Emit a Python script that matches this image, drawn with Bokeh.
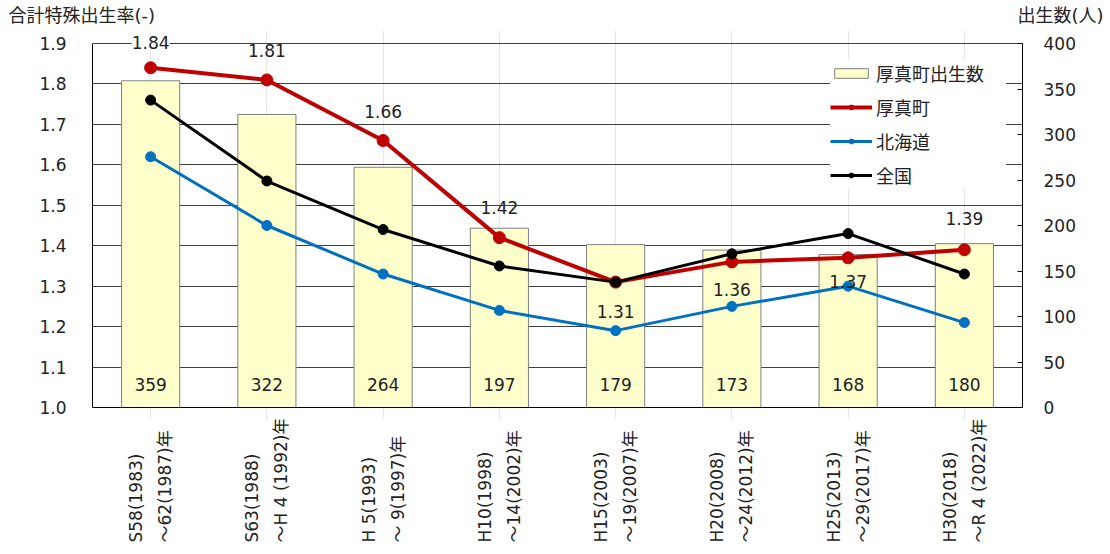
import math
from bokeh.plotting import figure
from bokeh.layouts import column
from bokeh.models import (ColumnDataSource, Range1d, LinearAxis, FixedTicker, LabelSet, Span,
                          Legend, LegendItem, NumeralTickFormatter, FactorRange)
from bokeh.core.properties import value
from bokeh.embed import file_html
from bokeh.resources import INLINE

# ---- data ----
periods = ["S58(1983)\n～62(1987)年", "S63(1988)\n～H 4 (1992)年", "H 5(1993)\n～ 9(1997)年",
           "H10(1998)\n～14(2002)年", "H15(2003)\n～19(2007)年", "H20(2008)\n～24(2012)年",
           "H25(2013)\n～29(2017)年", "H30(2018)\n～R 4 (2022)年"]
births = [359, 322, 264, 197, 179, 173, 168, 180]
atsuma = [1.84, 1.81, 1.66, 1.42, 1.31, 1.36, 1.37, 1.39]
hokkaido = [1.62, 1.45, 1.33, 1.24, 1.19, 1.25, 1.30, 1.21]
japan = [1.76, 1.56, 1.44, 1.35, 1.31, 1.38, 1.43, 1.33]
rate_ticks = [1.0, 1.1, 1.2, 1.3, 1.4, 1.5, 1.6, 1.7, 1.8, 1.9]
birth_ticks = [0, 50, 100, 150, 200, 250, 300, 350, 400]
series_names = ["厚真町出生数", "厚真町", "北海道", "全国"]
left_title = "合計特殊出生率(-)"
right_title = "出生数(人)"

FONT = "DejaVu Sans, Noto Sans CJK JP"
FS = "17px"
FS_CJK = "18px"
TC = "#222222"

W = 1106
L_BORDER, R_BORDER = 92, W - 1022
HEADER_H = 30
AXIS_PX = 364          # pixels from 1.0 to 1.9
TOP_PAD, BOT_PAD = 13, 12
MAIN_H = AXIS_PX + TOP_PAD + BOT_PAD
FOOT_H = 548 - HEADER_H - MAIN_H
LABEL_BOTTOM = 542 - HEADER_H - MAIN_H   # page y of the labels' lower end, inside the footer

rate_lo, rate_hi = rate_ticks[0], rate_ticks[-1]
b_lo, b_hi = birth_ticks[0], birth_ticks[-1]
r_per_px = (rate_hi - rate_lo) / AXIS_PX
b_per_px = (b_hi - b_lo) / AXIS_PX

xr = FactorRange(factors=periods, range_padding=0)

# ---------- header with the two axis titles ----------
hdr = figure(width=W, height=HEADER_H, output_backend="svg", toolbar_location=None,
             x_range=Range1d(0, W), y_range=Range1d(0, HEADER_H),
             x_axis_location=None, y_axis_location=None,
             min_border_left=0, min_border_right=0, min_border_top=0, min_border_bottom=0)
hdr.frame_align = False
hdr.outline_line_color = None
hdr.grid.grid_line_color = None
hdr.text(x=[8], y=[HEADER_H - 15], text=[left_title], text_font=value(FONT), text_font_size=value(FS_CJK),
         text_baseline="middle", text_align="left", text_color=TC)
hdr.text(x=[1103], y=[HEADER_H - 15], text=[right_title], text_font=value(FONT), text_font_size=value(FS_CJK),
         text_baseline="middle", text_align="right", text_color=TC)

# ---------- main chart ----------
src = ColumnDataSource(dict(x=periods, births=births, atsuma=atsuma, hokkaido=hokkaido, japan=japan,
                            btext=[str(b) for b in births], zero=[0] * len(births)))

p = figure(width=W, height=MAIN_H, output_backend="svg", toolbar_location=None,
           x_range=xr, y_range=Range1d(rate_lo - BOT_PAD * r_per_px, rate_hi + TOP_PAD * r_per_px),
           x_axis_location=None,
           min_border_left=L_BORDER, min_border_right=R_BORDER, min_border_top=0, min_border_bottom=0)
p.outline_line_color = None
p.extra_y_ranges = {"right": Range1d(b_lo - BOT_PAD * b_per_px, b_hi + TOP_PAD * b_per_px)}

p.ygrid.ticker = FixedTicker(ticks=rate_ticks)
p.ygrid.grid_line_color = "#404040"
p.ygrid.grid_line_width = 1

bars = p.vbar(x="x", top="births", bottom=0, width=0.5, source=src, y_range_name="right",
              fill_color="#FFFFCC", line_color="#7F7F7F", line_width=1)
p.add_layout(Span(location=rate_lo, dimension="width", line_color="black", line_width=1))

r_line = p.line("x", "atsuma", source=src, line_color="#C00000", line_width=4)
r_pts = p.scatter("x", "atsuma", source=src, size=12, fill_color="#C00000", line_color="#C00000")
b_line = p.line("x", "hokkaido", source=src, line_color="#0070C0", line_width=3)
b_pts = p.scatter("x", "hokkaido", source=src, size=10, fill_color="#0070C0", line_color="#0070C0")
k_line = p.line("x", "japan", source=src, line_color="black", line_width=3)
k_pts = p.scatter("x", "japan", source=src, size=10, fill_color="black", line_color="black")

# value labels for 厚真町 (the first one sits on the top border line)
label_dy = [25, 29, 29, 30, -29, -28, -24, 31]
src_first = ColumnDataSource(dict(x=periods[:1], y=atsuma[:1], t=["%.2f" % a for a in atsuma[:1]], dy=label_dy[:1]))
src_rest = ColumnDataSource(dict(x=periods[1:], y=atsuma[1:], t=["%.2f" % a for a in atsuma[1:]], dy=label_dy[1:]))
p.add_layout(LabelSet(x="x", y="y", text="t", y_offset="dy", source=src_first, text_align="center",
                      text_baseline="middle", text_font=value(FONT), text_font_size=value(FS), text_color=TC,
                      background_fill_color="white", background_fill_alpha=1.0))
p.add_layout(LabelSet(x="x", y="y", text="t", y_offset="dy", source=src_rest, text_align="center",
                      text_baseline="middle", text_font=value(FONT), text_font_size=value(FS), text_color=TC))

p.add_layout(LabelSet(x="x", y="zero", text="btext", y_offset=23, source=src, y_range_name="right",
                      text_align="center", text_baseline="middle", text_font=value(FONT),
                      text_font_size=value(FS), text_color=TC))

# axes
p.yaxis.ticker = FixedTicker(ticks=rate_ticks)
p.yaxis.formatter = NumeralTickFormatter(format="0.0")
p.yaxis.bounds = (rate_lo, rate_hi)
p.yaxis.major_tick_out = 0
p.yaxis.major_tick_in = 0
p.yaxis.minor_tick_out = 0
p.yaxis.minor_tick_in = 0
p.yaxis.major_label_standoff = 26
p.yaxis.axis_line_color = "black"

raxis = LinearAxis(y_range_name="right", ticker=FixedTicker(ticks=birth_ticks), bounds=(b_lo, b_hi))
raxis.major_tick_out = 0
raxis.major_tick_in = 5
raxis.minor_tick_out = 0
raxis.minor_tick_in = 0
raxis.major_label_standoff = 21
raxis.axis_line_color = "black"
p.add_layout(raxis, "right")

for ax in [p.yaxis[0], raxis]:
    ax.major_label_text_font = FONT
    ax.major_label_text_font_size = FS
    ax.major_label_text_color = TC

legend = Legend(items=[LegendItem(label=series_names[0], renderers=[bars]),
                       LegendItem(label=series_names[1], renderers=[r_line, r_pts]),
                       LegendItem(label=series_names[2], renderers=[b_line, b_pts]),
                       LegendItem(label=series_names[3], renderers=[k_line, k_pts])],
                location=(738, 231))
legend.border_line_color = None
legend.background_fill_color = "white"
legend.background_fill_alpha = 1.0
legend.label_text_font = FONT
legend.label_text_font_size = FS_CJK
legend.label_text_color = TC
legend.glyph_width = 42
legend.glyph_height = 12
legend.label_height = 20
legend.label_width = 130
legend.spacing = 8
legend.padding = 8
legend.margin = 0
legend.label_standoff = 4
p.add_layout(legend, "center")

# ---------- footer with the rotated period labels ----------
ftr = figure(width=W, height=FOOT_H, output_backend="svg", toolbar_location=None,
             x_range=xr, y_range=Range1d(0, FOOT_H),
             x_axis_location=None, y_axis_location=None,
             min_border_left=L_BORDER, min_border_right=R_BORDER, min_border_top=0, min_border_bottom=0)
ftr.outline_line_color = None
ftr.grid.grid_line_color = None
ftr.text(x=periods, y=[FOOT_H - LABEL_BOTTOM] * len(periods), text=periods, angle=math.pi / 2,
         text_align="left", text_baseline="middle", text_line_height=1.45,
         text_font=value(FONT), text_font_size=value(FS), text_color=TC)

layout = column(hdr, p, ftr, spacing=0)
open("out.html", "w").write(file_html(layout, INLINE))
